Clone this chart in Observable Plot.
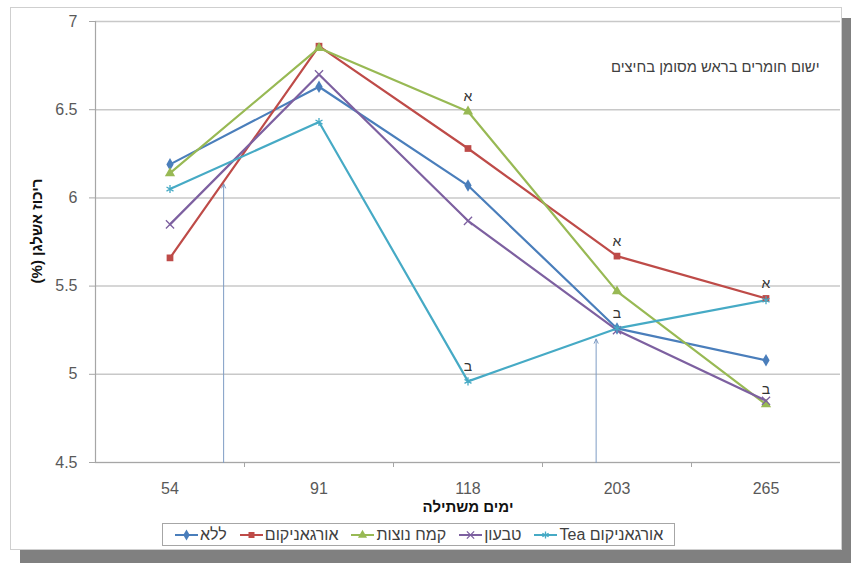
<!DOCTYPE html>
<html><head><meta charset="utf-8">
<script src="https://cdn.jsdelivr.net/npm/d3@7"></script>
<script src="https://cdn.jsdelivr.net/npm/@observablehq/plot@0.6"></script>
<style>
body{margin:0;background:#fff;}
#wrap{position:relative;width:851px;height:563px;overflow:hidden;font-family:"Liberation Sans",Arial,sans-serif;}
#shadow{position:absolute;left:20px;top:18px;width:831px;height:545px;background:#808080;}
#frame{position:absolute;left:10px;top:7px;width:832px;height:543px;background:#fff;border:1px solid #cfcfcf;box-sizing:border-box;}
#chart{position:absolute;left:0;top:0;}
#legend{position:absolute;left:162px;top:523px;width:513px;height:23px;border:1px solid #a6a6a6;box-sizing:border-box;display:flex;align-items:center;padding-left:12px;font-size:16px;color:#404040;white-space:nowrap;}
.item{display:flex;align-items:center;margin-right:13px;}
.item svg{margin-right:2px;}
</style>
</head><body>
<div id="wrap"><div id="shadow"></div><div id="frame"></div><div id="chart"></div><div id="legend"></div></div>
<script>
// ---- data ----
const days = ["54", "91", "118", "203", "265"];
const seriesNames = ["ללא", "אורגאניקום", "קמח נוצות", "טבעון", "אורגאניקום Tea"];
const none      = [6.19, 6.63, 6.07, 5.26, 5.08];
const organicum = [5.66, 6.86, 6.28, 5.67, 5.43];
const feather   = [6.14, 6.85, 6.49, 5.47, 4.83];
const tivon     = [5.85, 6.70, 5.87, 5.25, 4.85];
const tea       = [6.05, 6.43, 4.96, 5.26, 5.42];
const yTicks = [4.5, 5, 5.5, 6, 6.5, 7];
// application arrows (position between sampling days, tip value)
const arrowPos = [0.36, 2.86];
const arrowTop = [6.08, 5.2];
// significance letters
const letterText   = ["א", "א", "א", "ב", "ב", "ב"];
const letterSeries = [2, 1, 1, 4, 4, 2];
const letterDay    = [2, 3, 4, 2, 3, 4];
const note = "ישום חומרים בראש מסומן בחיצים";
const xTitle = "ימים משתילה";
const yTitle = "ריכוז אשלגן (%)";

// ---- build ----
const values = [none, organicum, feather, tivon, tea];
const palette = ["#4a7ebb", "#be4b48", "#98b954", "#7d60a0", "#46aac5"];
const symbols = ["diamond", "square", "triangle", "times", "asterisk"];
const rows = [];
seriesNames.forEach((s, k) => values[k].forEach((v, i) => rows.push({series: s, i, v})));
const filled = rows.filter(d => seriesNames.indexOf(d.series) < 3);
const stroked = rows.filter(d => seriesNames.indexOf(d.series) >= 3);
const arrows = arrowPos.map((x, j) => ({x, top: arrowTop[j]}));
const letters = letterText.map((t, j) => ({t, i: letterDay[j], v: values[letterSeries[j]][letterDay[j]]}));
const gray = "#a6a6a6";

const plot = Plot.plot({
  width: 851, height: 563,
  marginLeft: 95, marginRight: 11, marginTop: 21, marginBottom: 101,
  style: {background: "transparent", fontFamily: "'Liberation Sans', Arial, sans-serif", overflow: "visible"},
  x: {type: "linear", domain: [-0.5, days.length - 0.5]},
  y: {domain: [4.5, 7]},
  color: {domain: seriesNames, range: palette},
  symbol: {domain: seriesNames, range: symbols},
  marks: [
    Plot.gridY(yTicks, {stroke: "#c8c8c8", strokeOpacity: 1, strokeWidth: 1.5}),
    Plot.ruleX([-0.5], {stroke: gray, strokeWidth: 1.2}),
    Plot.ruleY([4.5], {stroke: gray, strokeWidth: 1.2}),
    Plot.axisY(yTicks, {tickSize: 6, tickPadding: 12, stroke: gray, fill: "#595959", fontSize: 16, label: null, tickFormat: d => String(d)}),
    Plot.axisX(d3.range(days.length), {tickSize: 0, tickPadding: 20, fill: "#595959", fontSize: 16, label: null, tickFormat: i => days[i]}),
    Plot.axisX(d3.range(days.length - 1).map(i => i + 0.5), {tickSize: 5, stroke: gray, label: null, tickFormat: () => ""}),
    Plot.arrow(arrows, {x1: "x", x2: "x", y1: () => 4.5, y2: "top", stroke: "#7e9cc4", strokeWidth: 1, headLength: 7, headAngle: 50}),
    Plot.line(rows, {x: "i", y: "v", z: "series", stroke: "series", strokeWidth: 2.2}),
    Plot.dot(filled, {x: "i", y: "v", symbol: "series", fill: "series", r: 3.8}),
    Plot.dot(stroked, {x: "i", y: "v", symbol: "series", stroke: "series", r: 3.8, strokeWidth: 1.3}),
    Plot.text(letters, {x: "i", y: "v", text: "t", dy: -15, fontSize: 14, fill: "#333"}),
    Plot.text([note], {frameAnchor: "top-right", dx: -21, dy: 46, textAnchor: "end", lineAnchor: "middle", fontSize: 14.8, fill: "#404040"}),
    Plot.text([xTitle], {frameAnchor: "bottom", dy: 45, lineAnchor: "middle", textAnchor: "middle", fontSize: 15, fontWeight: "bold", fill: "#111"}),
    Plot.text([yTitle], {frameAnchor: "left", dx: -58, dy: -11, rotate: -90, lineAnchor: "middle", textAnchor: "middle", fontSize: 15, fontWeight: "bold", fill: "#111"})
  ]
});
d3.select(plot).selectAll("text").filter(function() { return this.textContent === yTitle; }).attr("direction", "rtl").attr("unicode-bidi", "embed");
document.getElementById("chart").appendChild(plot);

// legend
const legend = document.getElementById("legend");
const symMap = {diamond: d3.symbolDiamond, square: d3.symbolSquare, triangle: d3.symbolTriangle, times: d3.symbolTimes, asterisk: d3.symbolAsterisk};
seriesNames.forEach((s, k) => {
  const item = document.createElement("div");
  item.className = "item";
  const svg = d3.create("svg").attr("width", 23).attr("height", 12);
  svg.append("line").attr("x1", 0).attr("x2", 23).attr("y1", 6).attr("y2", 6).attr("stroke", palette[k]).attr("stroke-width", 2);
  const p = svg.append("path").attr("transform", "translate(11.5,6)").attr("d", d3.symbol(symMap[symbols[k]], 36)());
  if (k < 3) p.attr("fill", palette[k]); else p.attr("fill", "none").attr("stroke", palette[k]).attr("stroke-width", 1.3);
  item.appendChild(svg.node());
  const lab = document.createElement("span");
  lab.dir = "rtl";
  lab.textContent = s;
  item.appendChild(lab);
  legend.appendChild(item);
});
</script>
</body></html>
